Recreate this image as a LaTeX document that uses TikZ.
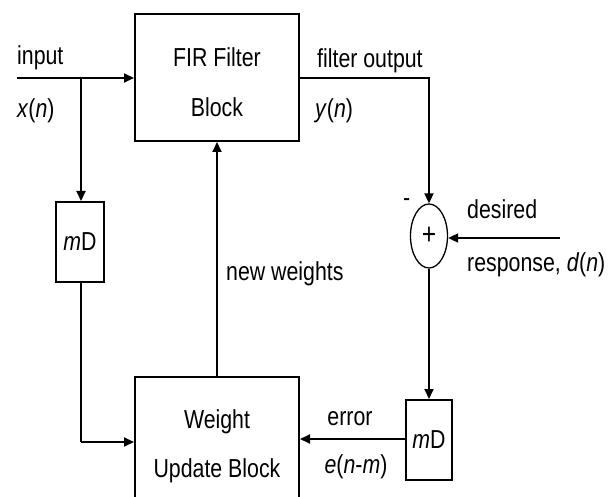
\documentclass[tikz,border=0pt]{standalone}
\usepackage{fontspec}
\setmainfont{Liberation Sans}[FakeStretch=0.82]
\usetikzlibrary{arrows.meta,shapes.geometric}
\begin{document}
\begin{tikzpicture}[x=1pt,y=-1pt,
  blk/.style={draw,line width=2pt,inner sep=0pt},
  wire/.style={line width=1.8pt},
  arr/.style={wire,-{Triangle[length=10pt,width=9pt]}},
  lbl/.style={inner sep=0pt,anchor=base west},
  txt/.style={inner sep=0pt,anchor=base},
  every node/.append style={font=\fontsize{26}{30}\selectfont}]
\useasboundingbox (0,0) rectangle (608,497);
% blocks
\node[blk,minimum width=164pt,minimum height=127pt] (fir) at (217,77.5) {};
\node[txt] (fir1) at (217,67) {FIR Filter};
\node[txt] (fir2) at (217,117) {Block};
\node[blk,minimum width=164pt,minimum height=127pt,anchor=north] (wu) at (217,376) {};
\node[txt] (wu1) at (217,428) {Weight};
\node[txt] (wu2) at (217,477) {Update Block};
\node[blk,minimum width=48pt,minimum height=80pt] (mdl) at (80,242) {\textit{m}D};
\node[blk,minimum width=46pt,minimum height=80pt] (mdr) at (429,440) {\textit{m}D};
\node[draw,ellipse,line width=1.3pt,minimum width=37pt,minimum height=64pt,inner sep=0pt] (sum) at (429,236) {\fontsize{30}{30}\selectfont +};
% coordinates
\coordinate (in) at (17,78);
\coordinate (br) at (81,78);
\coordinate (fo) at (429,78);
\coordinate (dr) at (560,238);
\coordinate (lc) at (81,442);
% connectors
\draw[arr] (in) -- (fir.west |- in);
\draw[arr] (br) -- (br |- mdl.north);
\draw[wire] (mdl.south -| br) -- (lc);
\draw[arr] (lc) -- (wu.west |- lc);
\draw[arr] (wu.north) -- (fir.south);
\draw[arr] (fir.east |- fo) -- (fo) -- (sum.north);
\draw[arr] (dr) -- (sum.east |- dr);
\draw[arr] (sum.south) -- (mdr.north -| sum);
\draw[arr] (mdr.west |- 0,439) -- (wu.east |- 0,439);
% labels
\node[lbl] (l1) at (17,65) {input};
\node[lbl] (l2) at (17,118) {\textit{x}(\textit{n})};
\node[lbl] (l3) at (317,68) {filter output};
\node[lbl] (l4) at (315,118) {\textit{y}(\textit{n})};
\node[lbl] (l5) at (403,207) {-};
\node[lbl] (l6) at (467,219) {desired};
\node[lbl] (l7) at (467,272) {response, \textit{d}(\textit{n})};
\node[lbl] (l8) at (226,280) {new weights};
\node[txt] (l9) at (350,425) {error};
\node[txt] (l10) at (356,473) {\textit{e}(\textit{n}-\textit{m})};
\end{tikzpicture}
\end{document}
